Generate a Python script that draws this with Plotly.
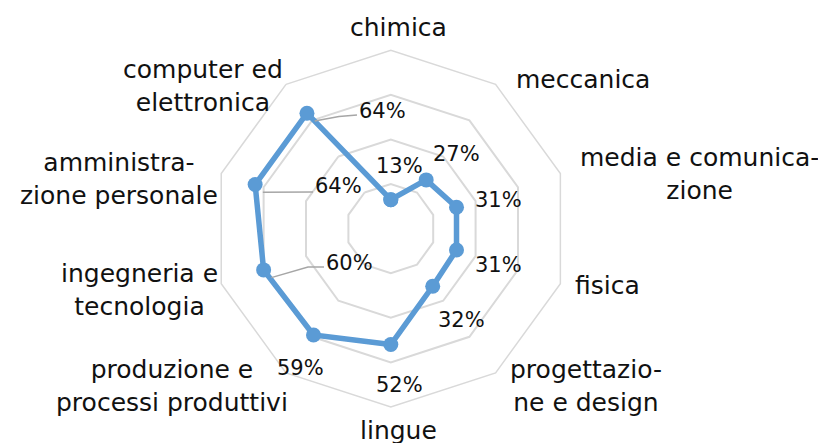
import math
import plotly.graph_objects as go

# ---- data ----
categories = ["chimica", "meccanica", "media e comunicazione", "fisica",
              "progettazione e design", "lingue", "produzione e processi produttivi",
              "ingegneria e tecnologia", "amministrazione personale", "computer ed elettronica"]
category_labels = ["chimica", "meccanica", "media e comunica-<br>zione", "fisica",
                   "progettazio-<br>ne e design", "lingue", "produzione e<br>processi produttivi",
                   "ingegneria e<br>tecnologia", "amministra-<br>zione personale", "computer ed<br>elettronica"]
values = [13, 27, 31, 31, 32, 52, 59, 60, 64, 64]
value_labels = [f"{v}%" for v in values]

# ---- layout (pixels) ----
W, H = 826, 443
CX, CY, R = 390.5, 228.3, 178.3
DOM_SHIFT = 7.7          # plotly offsets the polar centre slightly; compensate
TXT_SHIFT_CAT = 8        # vertical compensation for annotation box vs glyphs
TXT_SHIFT_VAL = 6
RMAX = 80
BLUE = "#5B9BD5"
GRID = "#D9D9D9"
LEADER = "#A6A6A6"
TEXT = "#111111"
FONT = "DejaVu Sans"

cat_label_pos = [(390, 27), (575, 79), (691, 174), (599, 285), (578, 386),
                 (390, 430), (164, 386), (131, 290), (111, 179), (195, 86)]
val_label_pos = [(391, 164), (448, 152), (490, 198), (490, 263), (454, 318),
                 (391, 383), (292, 366), (341, 261), (330, 184), (374, 109)]
# leader lines: intermediate pixel points from marker toward label
leaders = {9: [(331, 108.5), (349, 107)], 8: [(305, 184)], 7: [(300, 259), (316, 259)]}


def px(x, y):
    return x / W, 1 - y / H


def marker_px(i):
    ang = math.radians(i * 360 / len(categories))
    rp = values[i] / RMAX * R
    return CX + rp * math.sin(ang), CY - rp * math.cos(ang)


fig = go.Figure()
fig.add_trace(go.Scatterpolar(
    r=values + [values[0]],
    theta=categories + [categories[0]],
    mode="lines+markers",
    line=dict(color=BLUE, width=5.5),
    marker=dict(color=BLUE, size=15),
    hoverinfo="skip",
    showlegend=False,
))

annotations = []
for lab, (x, y) in zip(category_labels, cat_label_pos):
    xx, yy = px(x, y - TXT_SHIFT_CAT)
    annotations.append(dict(x=xx, y=yy, xref="paper", yref="paper", text=lab,
                            showarrow=False, xanchor="center", yanchor="middle",
                            align="center", font=dict(family=FONT, size=25, color=TEXT)))
for lab, (x, y) in zip(value_labels, val_label_pos):
    xx, yy = px(x, y - TXT_SHIFT_VAL)
    annotations.append(dict(x=xx, y=yy, xref="paper", yref="paper", text=lab,
                            showarrow=False, xanchor="center", yanchor="middle",
                            font=dict(family=FONT, size=21, color=TEXT)))

shapes = []
for i, pts in leaders.items():
    mx, my = marker_px(i)
    path = "M {} {}".format(*px(mx, my))
    for (x, y) in pts:
        path += " L {} {}".format(*px(x, y))
    shapes.append(dict(type="path", xref="paper", yref="paper", path=path,
                       line=dict(color=LEADER, width=1.5), layer="above"))

dcx, dcy = CX - DOM_SHIFT, CY - DOM_SHIFT
fig.update_layout(
    width=W, height=H,
    margin=dict(l=0, r=0, t=0, b=0),
    paper_bgcolor="white",
    plot_bgcolor="white",
    polar=dict(
        domain=dict(x=[(dcx - R) / W, (dcx + R) / W], y=[1 - (dcy + R) / H, 1 - (dcy - R) / H]),
        gridshape="linear",
        bgcolor="white",
        radialaxis=dict(range=[0, RMAX], dtick=20, showticklabels=False, ticks="",
                        showline=False, gridcolor=GRID, gridwidth=1.5),
        angularaxis=dict(direction="clockwise", rotation=90, showticklabels=False,
                         ticks="", showgrid=False, linecolor=GRID, linewidth=1.5,
                         categoryorder="array", categoryarray=categories),
    ),
    annotations=annotations,
    shapes=shapes,
)

fig.write_html("out.html")
